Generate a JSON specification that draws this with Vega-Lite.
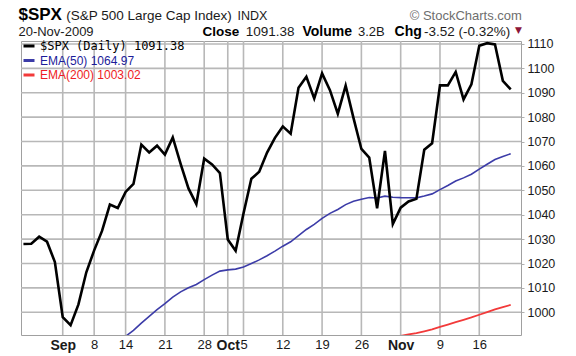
{
  "$schema": "https://vega.github.io/schema/vega-lite/v6.json",
  "width": 500,
  "height": 294,
  "autosize": "none",
  "padding": {"left": 21, "top": 41, "right": 55, "bottom": 21},
  "background": "white",
  "resolve": {"scale": {"x": "shared", "y": "shared", "color": "shared"}, "axis": {"x": "independent", "y": "independent"}},
  "config": {
    "view": {"stroke": "#a0a0a0", "strokeWidth": 1},
    "font": "Liberation Sans",
    "axis": {"domain": false, "grid": false, "title": null, "labelFont": "Liberation Sans", "labelColor": "#1a1a1a"},
    "axisX": {"ticks": false, "labelAngle": 0, "labelPadding": 3, "labelBaseline": "top", "labelOverlap": false, "labelBound": false, "labelFlush": false},
    "axisY": {"tickSize": 3, "tickColor": "#b0b0b0", "labelPadding": 3, "labelFontSize": 12.5, "labelOverlap": false, "labelBound": false, "labelFlush": false}
  },
  "data": {
    "values": [
      {"date": "2009-08-25", "close": 1028.00},
      {"date": "2009-08-26", "close": 1028.12},
      {"date": "2009-08-27", "close": 1030.98},
      {"date": "2009-08-28", "close": 1028.93},
      {"date": "2009-08-31", "close": 1020.62},
      {"date": "2009-09-01", "close": 998.04},
      {"date": "2009-09-02", "close": 994.75},
      {"date": "2009-09-03", "close": 1003.24},
      {"date": "2009-09-04", "close": 1016.40},
      {"date": "2009-09-08", "close": 1025.39},
      {"date": "2009-09-09", "close": 1033.37},
      {"date": "2009-09-10", "close": 1044.14},
      {"date": "2009-09-11", "close": 1042.73, "ema50": 987.73},
      {"date": "2009-09-14", "close": 1049.34, "ema50": 990.15},
      {"date": "2009-09-15", "close": 1052.63, "ema50": 992.60},
      {"date": "2009-09-16", "close": 1068.76, "ema50": 995.59},
      {"date": "2009-09-17", "close": 1065.49, "ema50": 998.33},
      {"date": "2009-09-18", "close": 1068.30, "ema50": 1001.07},
      {"date": "2009-09-21", "close": 1064.66, "ema50": 1003.56},
      {"date": "2009-09-22", "close": 1071.66, "ema50": 1006.23},
      {"date": "2009-09-23", "close": 1060.87, "ema50": 1008.37},
      {"date": "2009-09-24", "close": 1050.78, "ema50": 1010.03},
      {"date": "2009-09-25", "close": 1044.38, "ema50": 1011.38},
      {"date": "2009-09-28", "close": 1062.98, "ema50": 1013.40},
      {"date": "2009-09-29", "close": 1060.61, "ema50": 1015.25},
      {"date": "2009-09-30", "close": 1057.08, "ema50": 1016.89},
      {"date": "2009-10-01", "close": 1029.85, "ema50": 1017.40},
      {"date": "2009-10-02", "close": 1025.21, "ema50": 1017.71},
      {"date": "2009-10-05", "close": 1040.46, "ema50": 1018.60},
      {"date": "2009-10-06", "close": 1054.72, "ema50": 1020.01},
      {"date": "2009-10-07", "close": 1057.58, "ema50": 1021.48},
      {"date": "2009-10-08", "close": 1065.48, "ema50": 1023.21},
      {"date": "2009-10-09", "close": 1071.49, "ema50": 1025.10},
      {"date": "2009-10-12", "close": 1076.19, "ema50": 1027.10},
      {"date": "2009-10-13", "close": 1073.19, "ema50": 1028.91},
      {"date": "2009-10-14", "close": 1092.02, "ema50": 1031.39},
      {"date": "2009-10-15", "close": 1096.56, "ema50": 1033.95},
      {"date": "2009-10-16", "close": 1087.68, "ema50": 1036.06},
      {"date": "2009-10-19", "close": 1097.91, "ema50": 1038.49},
      {"date": "2009-10-20", "close": 1091.06, "ema50": 1040.55},
      {"date": "2009-10-21", "close": 1081.40, "ema50": 1042.15},
      {"date": "2009-10-22", "close": 1092.91, "ema50": 1044.14},
      {"date": "2009-10-23", "close": 1079.60, "ema50": 1045.53},
      {"date": "2009-10-26", "close": 1066.95, "ema50": 1046.37},
      {"date": "2009-10-27", "close": 1063.41, "ema50": 1047.04},
      {"date": "2009-10-28", "close": 1042.63, "ema50": 1046.87},
      {"date": "2009-10-29", "close": 1066.11, "ema50": 1047.62},
      {"date": "2009-10-30", "close": 1036.19, "ema50": 1047.17, "ema200": 989.85},
      {"date": "2009-11-02", "close": 1042.88, "ema50": 1047.00, "ema200": 990.38},
      {"date": "2009-11-03", "close": 1045.41, "ema50": 1046.94, "ema200": 990.93},
      {"date": "2009-11-04", "close": 1046.50, "ema50": 1046.92, "ema200": 991.48},
      {"date": "2009-11-05", "close": 1066.63, "ema50": 1047.69, "ema200": 992.23},
      {"date": "2009-11-06", "close": 1069.30, "ema50": 1048.54, "ema200": 993.00},
      {"date": "2009-11-09", "close": 1093.08, "ema50": 1050.29, "ema200": 994.00},
      {"date": "2009-11-10", "close": 1093.01, "ema50": 1051.96, "ema200": 994.99},
      {"date": "2009-11-11", "close": 1098.51, "ema50": 1053.79, "ema200": 996.02},
      {"date": "2009-11-12", "close": 1087.24, "ema50": 1055.10, "ema200": 996.93},
      {"date": "2009-11-13", "close": 1093.48, "ema50": 1056.61, "ema200": 997.89},
      {"date": "2009-11-16", "close": 1109.30, "ema50": 1058.68, "ema200": 999.00},
      {"date": "2009-11-17", "close": 1110.32, "ema50": 1060.70, "ema200": 1000.11},
      {"date": "2009-11-18", "close": 1109.80, "ema50": 1062.63, "ema200": 1001.20},
      {"date": "2009-11-19", "close": 1094.90, "ema50": 1063.89, "ema200": 1002.13},
      {"date": "2009-11-20", "close": 1091.38, "ema50": 1064.97, "ema200": 1003.02}
    ]
  },
  "layer": [
    {
      "data": {"values": [{"tick": "2009-09-01"}, {"tick": "2009-09-08"}, {"tick": "2009-09-14"}, {"tick": "2009-09-21"}, {"tick": "2009-09-28"}, {"tick": "2009-10-01"}, {"tick": "2009-10-05"}, {"tick": "2009-10-12"}, {"tick": "2009-10-19"}, {"tick": "2009-10-26"}, {"tick": "2009-11-02"}, {"tick": "2009-11-09"}, {"tick": "2009-11-16"}]},
      "mark": {"type": "rule", "color": "#b8b8b8", "strokeWidth": 1.6},
      "encoding": {"x": {"field": "tick", "type": "ordinal", "axis": null}}
    },
    {
      "data": {"values": [{"level": 1000}, {"level": 1010}, {"level": 1020}, {"level": 1030}, {"level": 1040}, {"level": 1050}, {"level": 1060}, {"level": 1070}, {"level": 1080}, {"level": 1090}, {"level": 1100}, {"level": 1110}]},
      "mark": {"type": "rule", "color": "#b8b8b8", "strokeWidth": 1.6},
      "encoding": {"y": {"field": "level", "type": "quantitative", "axis": null}}
    },
    {
      "transform": [
        {"fold": ["ema200"], "as": ["series", "price"]},
        {"filter": "isValid(datum.price)"}
      ],
      "mark": {"type": "line", "clip": true, "strokeWidth": 1.8},
      "encoding": {
        "x": {
          "field": "date", "type": "ordinal",
          "scale": {
            "type": "point", "padding": 0.31,
            "domain": ["2009-08-25","2009-08-26","2009-08-27","2009-08-28","2009-08-31","2009-09-01","2009-09-02","2009-09-03","2009-09-04","2009-09-08","2009-09-09","2009-09-10","2009-09-11","2009-09-14","2009-09-15","2009-09-16","2009-09-17","2009-09-18","2009-09-21","2009-09-22","2009-09-23","2009-09-24","2009-09-25","2009-09-28","2009-09-29","2009-09-30","2009-10-01","2009-10-02","2009-10-05","2009-10-06","2009-10-07","2009-10-08","2009-10-09","2009-10-12","2009-10-13","2009-10-14","2009-10-15","2009-10-16","2009-10-19","2009-10-20","2009-10-21","2009-10-22","2009-10-23","2009-10-26","2009-10-27","2009-10-28","2009-10-29","2009-10-30","2009-11-02","2009-11-03","2009-11-04","2009-11-05","2009-11-06","2009-11-09","2009-11-10","2009-11-11","2009-11-12","2009-11-13","2009-11-16","2009-11-17","2009-11-18","2009-11-19","2009-11-20","2009-11-23"]
          },
          "axis": {
            "values": ["2009-09-01","2009-09-08","2009-09-14","2009-09-21","2009-09-28","2009-10-01","2009-10-05","2009-10-12","2009-10-19","2009-10-26","2009-11-02","2009-11-09","2009-11-16"],
            "labelExpr": "datum.value == '2009-09-01' ? 'Sep' : datum.value == '2009-10-01' ? 'Oct' : datum.value == '2009-11-02' ? 'Nov' : utcFormat(toDate(datum.value), '%-d')",
            "labelFontWeight": {"condition": {"test": "datum.value == '2009-09-01' || datum.value == '2009-10-01' || datum.value == '2009-11-02'", "value": "bold"}, "value": "normal"},
            "labelFontSize": {"condition": {"test": "datum.value == '2009-09-01' || datum.value == '2009-10-01' || datum.value == '2009-11-02'", "value": 14}, "value": 13}
          }
        },
        "y": {
          "field": "price", "type": "quantitative",
          "scale": {"domain": [990.7, 1111.2], "nice": false, "zero": false},
          "axis": {
            "orient": "right",
            "values": [1000, 1010, 1020, 1030, 1040, 1050, 1060, 1070, 1080, 1090, 1100, 1110],
            "format": "d"
          }
        },
        "color": {
          "field": "series", "type": "nominal",
          "scale": {"domain": ["close", "ema50", "ema200"], "range": ["#000000", "#3c3ca8", "#f23a3a"]},
          "legend": {
            "title": null,
            "orient": "none",
            "legendX": 1,
            "legendY": -2,
            "padding": 0,
            "symbolType": "stroke",
            "symbolStrokeWidth": 3,
            "symbolSize": 121,
            "labelFontSize": 12,
            "labelOffset": 4,
            "rowPadding": 1.5,
            "labelExpr": "datum.value == 'close' ? '$SPX (Daily) 1091.38' : datum.value == 'ema50' ? 'EMA(50) 1064.97' : 'EMA(200) 1003.02'",
            "labelColor": {"expr": "datum.value == 'close' ? '#000000' : datum.value == 'ema50' ? '#1c1c9a' : '#ee1c24'"},
            "labelFont": {"expr": "datum.value == 'close' ? 'DejaVu Sans Mono' : 'Liberation Sans'"}
          }
        }
      }
    },
    {
      "transform": [
        {"fold": ["ema50"], "as": ["series", "price"]},
        {"filter": "isValid(datum.price)"}
      ],
      "mark": {"type": "line", "clip": true, "strokeWidth": 1.6},
      "encoding": {
        "x": {"field": "date", "type": "ordinal", "axis": null},
        "y": {"field": "price", "type": "quantitative", "axis": null},
        "color": {"field": "series", "type": "nominal"}
      }
    },
    {
      "transform": [
        {"fold": ["close"], "as": ["series", "price"]},
        {"filter": "isValid(datum.price)"}
      ],
      "mark": {"type": "line", "clip": true, "strokeWidth": 2.6},
      "encoding": {
        "x": {"field": "date", "type": "ordinal", "axis": null},
        "y": {"field": "price", "type": "quantitative", "axis": null},
        "color": {"field": "series", "type": "nominal"}
      }
    },
    {
      "data": {"values": [{}]},
      "mark": {"type": "text", "text": "$SPX", "font": "Liberation Sans", "fontSize": 17, "fontWeight": "bold", "align": "left", "baseline": "alphabetic", "color": "#000000", "dx": -5},
      "encoding": {"x": {"datum": "2009-08-25", "type": "ordinal", "axis": null}, "y": {"datum": 1120.0, "type": "quantitative", "axis": null}}
    },
    {
      "data": {"values": [{}]},
      "mark": {"type": "text", "text": "(S&P 500 Large Cap Index)", "font": "Liberation Sans", "fontSize": 13.5, "align": "left", "baseline": "alphabetic", "color": "#1a1a1a", "dx": 3.5},
      "encoding": {"x": {"datum": "2009-09-01", "type": "ordinal", "axis": null}, "y": {"datum": 1120.0, "type": "quantitative", "axis": null}}
    },
    {
      "data": {"values": [{}]},
      "mark": {"type": "text", "text": "INDX", "font": "Liberation Sans", "fontSize": 12.5, "align": "left", "baseline": "alphabetic", "color": "#1a1a1a", "dx": 1.8},
      "encoding": {"x": {"datum": "2009-10-02", "type": "ordinal", "axis": null}, "y": {"datum": 1120.0, "type": "quantitative", "axis": null}}
    },
    {
      "data": {"values": [{}]},
      "mark": {"type": "text", "text": "© StockCharts.com", "font": "Liberation Sans", "fontSize": 13, "align": "right", "baseline": "alphabetic", "color": "#6e6e6e", "dx": 3.3},
      "encoding": {"x": {"datum": "2009-11-23", "type": "ordinal", "axis": null}, "y": {"datum": 1120.0, "type": "quantitative", "axis": null}}
    },
    {
      "data": {"values": [{}]},
      "mark": {"type": "text", "text": "20-Nov-2009", "font": "Liberation Sans", "fontSize": 13, "align": "left", "baseline": "alphabetic", "color": "#1a1a1a", "dx": -5},
      "encoding": {"x": {"datum": "2009-08-25", "type": "ordinal", "axis": null}, "y": {"datum": 1113.2, "type": "quantitative", "axis": null}}
    },
    {
      "data": {"values": [{}]},
      "mark": {"type": "text", "text": "Close", "font": "Liberation Sans", "fontSize": 13.5, "fontWeight": "bold", "align": "left", "baseline": "alphabetic", "color": "#000000", "dx": -1.8},
      "encoding": {"x": {"datum": "2009-09-28", "type": "ordinal", "axis": null}, "y": {"datum": 1113.2, "type": "quantitative", "axis": null}}
    },
    {
      "data": {"values": [{}]},
      "mark": {"type": "text", "text": "1091.38", "font": "Liberation Sans", "fontSize": 13.5, "align": "left", "baseline": "alphabetic", "color": "#1a1a1a", "dx": 2.3},
      "encoding": {"x": {"datum": "2009-10-05", "type": "ordinal", "axis": null}, "y": {"datum": 1113.2, "type": "quantitative", "axis": null}}
    },
    {
      "data": {"values": [{}]},
      "mark": {"type": "text", "text": "Volume", "font": "Liberation Sans", "fontSize": 14, "fontWeight": "bold", "align": "left", "baseline": "alphabetic", "color": "#000000", "dx": 4},
      "encoding": {"x": {"datum": "2009-10-14", "type": "ordinal", "axis": null}, "y": {"datum": 1113.2, "type": "quantitative", "axis": null}}
    },
    {
      "data": {"values": [{}]},
      "mark": {"type": "text", "text": "3.2B", "font": "Liberation Sans", "fontSize": 13, "align": "left", "baseline": "alphabetic", "color": "#1a1a1a", "dx": 4.5},
      "encoding": {"x": {"datum": "2009-10-23", "type": "ordinal", "axis": null}, "y": {"datum": 1113.2, "type": "quantitative", "axis": null}}
    },
    {
      "data": {"values": [{}]},
      "mark": {"type": "text", "text": "Chg", "font": "Liberation Sans", "fontSize": 14, "fontWeight": "bold", "align": "left", "baseline": "alphabetic", "color": "#000000", "dx": 1.7},
      "encoding": {"x": {"datum": "2009-10-30", "type": "ordinal", "axis": null}, "y": {"datum": 1113.2, "type": "quantitative", "axis": null}}
    },
    {
      "data": {"values": [{}]},
      "mark": {"type": "text", "text": "-3.52 (-0.32%)", "font": "Liberation Sans", "fontSize": 13.5, "align": "left", "baseline": "alphabetic", "color": "#1a1a1a", "dx": -0.2},
      "encoding": {"x": {"datum": "2009-11-05", "type": "ordinal", "axis": null}, "y": {"datum": 1113.2, "type": "quantitative", "axis": null}}
    },
    {
      "data": {"values": [{}]},
      "mark": {"type": "text", "text": "▼", "font": "DejaVu Sans", "fontSize": 9, "align": "right", "baseline": "alphabetic", "color": "#8c1538", "dx": 3.3},
      "encoding": {"x": {"datum": "2009-11-23", "type": "ordinal", "axis": null}, "y": {"datum": 1114.6, "type": "quantitative", "axis": null}}
    }
  ]
}
